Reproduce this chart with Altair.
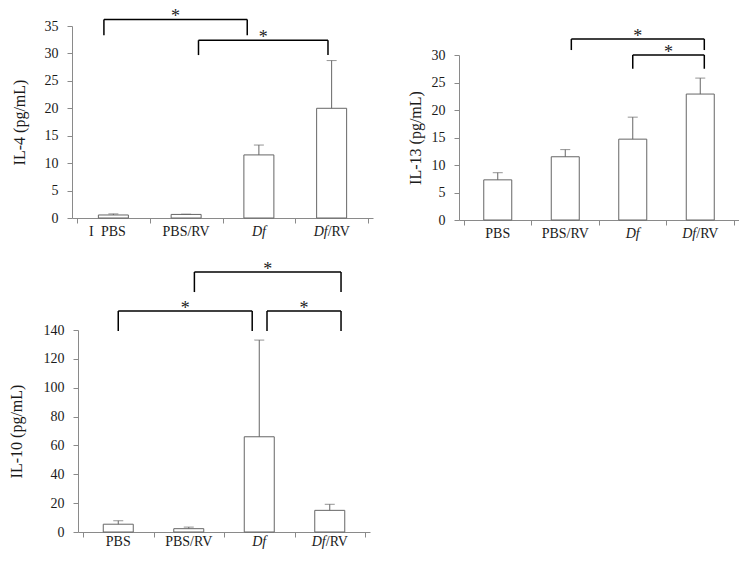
import altair as alt
import pandas as pd

groups = ["PBS", "PBS/RV", "Df", "Df/RV"]

il4_mean = [0.55, 0.65, 11.5, 20.0]
il4_upper = [0.75, 0.7, 13.3, 28.7]
il13_mean = [7.3, 11.5, 14.7, 22.9]
il13_upper = [8.6, 12.8, 18.7, 25.8]
il10_mean = [5.4, 2.3, 66.0, 15.0]
il10_upper = [7.8, 3.4, 133.0, 19.2]

il4_ticks = [0, 5, 10, 15, 20, 25, 30, 35]
il13_ticks = [0, 5, 10, 15, 20, 25, 30]
il10_ticks = [0, 20, 40, 60, 80, 100, 120, 140]

# significance brackets (from group, to group, bracket level, leg end, end nudges in category units)
il4_sig_from = ["PBS", "PBS/RV"]
il4_sig_to = ["Df", "Df/RV"]
il4_sig_top = [36.2, 32.4]
il4_sig_leg = [33.3, 29.7]
il4_sig_from_shift = [-0.13, 0.17]
il4_sig_to_shift = [-0.16, -0.05]

il13_sig_from = ["PBS/RV", "Df"]
il13_sig_to = ["Df/RV", "Df/RV"]
il13_sig_top = [32.9, 30.0]
il13_sig_leg = [30.9, 27.5]
il13_sig_from_shift = [0.09, 0.0]
il13_sig_to_shift = [0.06, 0.06]

il10_sig_from = ["PBS/RV", "PBS", "Df"]
il10_sig_to = ["Df/RV", "Df", "Df/RV"]
il10_sig_top = [180.2, 153.2, 153.2]
il10_sig_leg = [166.3, 139.3, 139.3]
il10_sig_from_shift = [0.08, 0.0, 0.11]
il10_sig_to_shift = [0.16, -0.1, 0.16]

stray_text = ["I"]
stray_group = ["PBS"]

FONT = "Liberation Serif"
BAR_GRAY = "#666666"
AXIS_GRAY = "#8a8a8a"
TEXT = "#1a1a1a"


def panel(title, means, uppers, ticks, sig, width, height, bar_w,
          xrange=None, yrange=None, x_offset=0, y_offset=0, title_pad=15,
          label_y=None, stray=False):
    pos = [i + 0.5 for i in range(len(groups))]
    df = pd.DataFrame({"group": groups, "pos": pos, "mean": means, "upper": uppers})
    f, t, top, leg, fs, ts = sig
    sdf = pd.DataFrame({
        "x1": [groups.index(a) + 0.5 + s for a, s in zip(f, fs)],
        "x2": [groups.index(b) + 0.5 + s for b, s in zip(t, ts)],
        "top": top,
        "leg": leg,
    })
    sdf["mid"] = (sdf["x1"] + sdf["x2"]) / 2

    xkw = dict(domain=[0, len(groups)], nice=False, zero=False)
    if xrange is not None:
        xkw["range"] = xrange
    xscale = alt.Scale(**xkw)
    ykw = dict(domain=[ticks[0], ticks[-1]], nice=False, zero=True)
    if yrange is not None:
        ykw["range"] = yrange
    yscale = alt.Scale(**ykw)
    xaxis = alt.Axis(values=list(range(len(groups) + 1)), labels=False, title=None,
                     tickSize=5, offset=x_offset, domainColor=AXIS_GRAY,
                     tickColor=AXIS_GRAY, grid=False)
    yaxis = alt.Axis(values=ticks, title=title, titlePadding=title_pad, tickSize=5,
                     labelPadding=9, grid=False, domainColor=AXIS_GRAY,
                     tickColor=AXIS_GRAY, offset=y_offset)

    def X(field):
        return alt.X(f"{field}:Q", scale=xscale, axis=xaxis)

    def Y(field):
        return alt.Y(f"{field}:Q", scale=yscale, axis=yaxis)

    base = alt.Chart(df)
    bars = base.mark_bar(width=bar_w, fill="white", stroke=BAR_GRAY, strokeWidth=1,
                         orient="vertical").encode(x=X("pos"), y=Y("mean"))
    err = base.mark_rule(color=BAR_GRAY, strokeWidth=1).encode(
        x=X("pos"), y=Y("mean"), y2="upper:Q")
    cap = base.mark_tick(orient="horizontal", size=10, thickness=1, color=BAR_GRAY).encode(
        x=X("pos"), y=Y("upper"))

    sb = alt.Chart(sdf)
    hline = sb.mark_rule(color="black", strokeWidth=1.5).encode(x=X("x1"), x2="x2:Q", y=Y("top"))
    lleg = sb.mark_rule(color="black", strokeWidth=1.5).encode(x=X("x1"), y=Y("leg"), y2="top:Q")
    rleg = sb.mark_rule(color="black", strokeWidth=1.5).encode(x=X("x2"), y=Y("leg"), y2="top:Q")
    star = sb.mark_text(text="*", font=FONT, fontSize=18, baseline="alphabetic", dy=3,
                        color="#222222").encode(x=X("mid"), y=Y("top"))

    ly = label_y if label_y is not None else height + 14
    lbl = base.transform_calculate(
        ital="indexof(datum.group, 'Df') == 0 ? 'Df' : ''",
        rest="indexof(datum.group, 'Df') == 0 ? substring(datum.group, 2) : datum.group",
    )
    txt = dict(font=FONT, fontSize=14, baseline="middle", color=TEXT)
    plain = lbl.transform_filter("datum.ital == ''").mark_text(align="center", **txt).encode(
        x=X("pos"), y=alt.value(ly), text="rest:N")
    ital_only = lbl.transform_filter("datum.ital != '' && datum.rest == ''").mark_text(
        align="center", fontStyle="italic", **txt).encode(x=X("pos"), y=alt.value(ly), text="ital:N")
    ital_part = lbl.transform_filter("datum.ital != '' && datum.rest != ''").mark_text(
        align="right", fontStyle="italic", dx=-4, **txt).encode(x=X("pos"), y=alt.value(ly), text="ital:N")
    rest_part = lbl.transform_filter("datum.ital != '' && datum.rest != ''").mark_text(
        align="left", dx=-4, **txt).encode(x=X("pos"), y=alt.value(ly), text="rest:N")

    layers = [bars, err, cap, hline, lleg, rleg, star, plain, ital_only, ital_part, rest_part]
    if stray:
        stdf = pd.DataFrame({"t": stray_text,
                             "pos": [groups.index(g) + 0.5 for g in stray_group]})
        layers.append(alt.Chart(stdf).mark_text(dx=-22, **txt).encode(
            x=X("pos"), y=alt.value(ly), text="t:N"))
    return alt.layer(*layers).properties(width=width, height=height)


p1 = panel("IL-4 (pg/mL)", il4_mean, il4_upper, il4_ticks,
           (il4_sig_from, il4_sig_to, il4_sig_top, il4_sig_leg, il4_sig_from_shift, il4_sig_to_shift),
           width=295, height=192, bar_w=30, xrange=[-6, 295], y_offset=6, title_pad=17, stray=True)
p2 = panel("IL-13 (pg/mL)", il13_mean, il13_upper, il13_ticks,
           (il13_sig_from, il13_sig_to, il13_sig_top, il13_sig_leg, il13_sig_from_shift, il13_sig_to_shift),
           width=280, height=192, bar_w=28, yrange=[194, 29], x_offset=2, title_pad=8,
           label_y=208)
p3 = panel("IL-10 (pg/mL)", il10_mean, il10_upper, il10_ticks,
           (il10_sig_from, il10_sig_to, il10_sig_top, il10_sig_leg, il10_sig_from_shift, il10_sig_to_shift),
           width=292, height=202, bar_w=30, title_pad=19, label_y=212)

chart = alt.vconcat(
    alt.hconcat(p1, p2, spacing=28),
    p3,
    spacing=19,
).properties(
    padding={"left": 0, "top": 0, "right": 0, "bottom": 0}
).configure_view(stroke=None).configure_axis(
    labelFont=FONT, titleFont=FONT, labelFontSize=14, titleFontSize=16,
    titleFontWeight="normal", labelColor=TEXT, titleColor=TEXT,
)

chart.save("out.html", embed_options={"renderer": "svg", "actions": False})
